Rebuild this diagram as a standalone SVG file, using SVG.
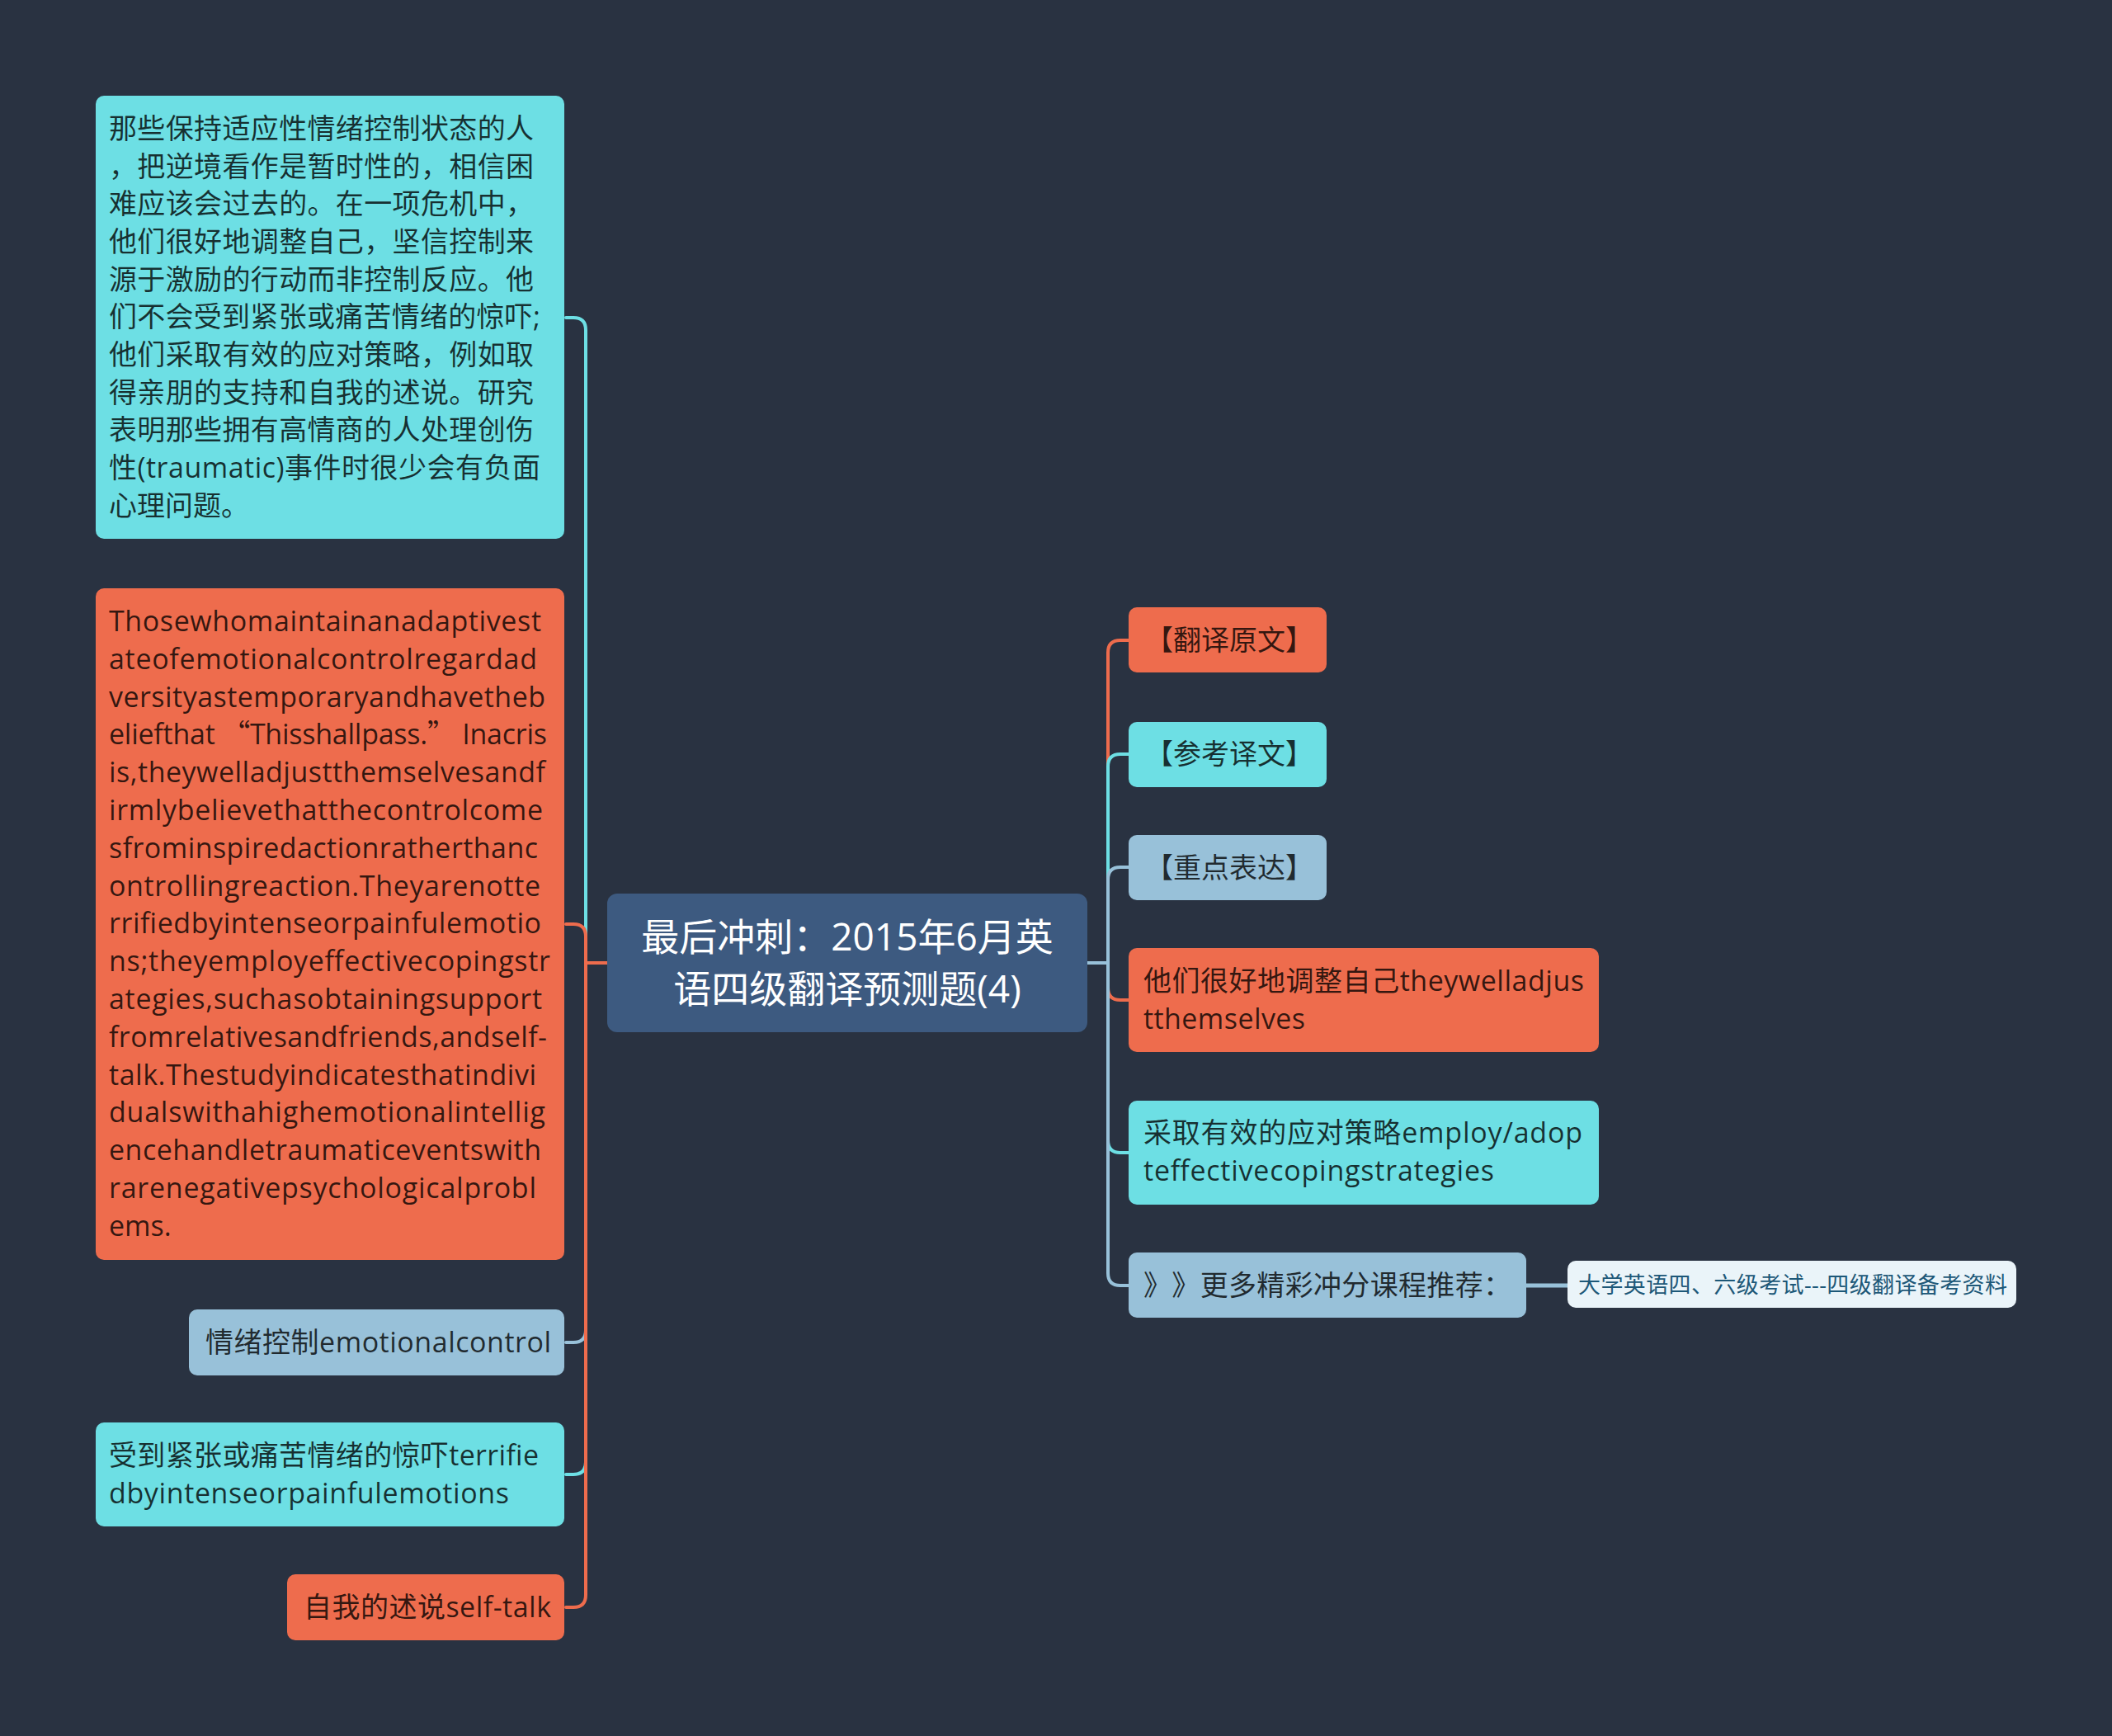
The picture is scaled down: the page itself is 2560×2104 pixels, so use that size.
<svg xmlns="http://www.w3.org/2000/svg" width="2560" height="2104" viewBox="0 0 2560 2104">
<style>
text{text-spacing-trim:space-all}
.t{font-family:"Open Sans","Noto Sans CJK SC",sans-serif;font-size:34px;fill:#000;fill-opacity:0.78}
.c{font-family:"Open Sans","Noto Sans CJK SC",sans-serif;font-size:46px;fill:#ffffff;text-anchor:middle}
.s{font-family:"Open Sans","Noto Sans CJK SC",sans-serif;font-size:27px;fill:#1d5878}
.q{font-family:"Noto Sans CJK SC",sans-serif}
.or{fill:#ee6c4d}
.cy{fill:#6ddfe4}
.lb{fill:#98c1d9}
.ln{fill:none;stroke-width:4;stroke-linecap:round}
</style>
<rect width="2560" height="2104" fill="#293241"/>
<g id="connectors">
  <path class="ln" stroke="#6ddfe4" d="M736,1167 H710 V400 Q710,385 695,385 H686"/>
  <path class="ln" stroke="#ee6c4d" d="M736,1167 H710 V1135 Q710,1120 695,1120 H686"/>
  <path class="ln" stroke="#98c1d9" d="M736,1167 H710 V1612 Q710,1627 695,1627 H686"/>
  <path class="ln" stroke="#6ddfe4" d="M736,1167 H710 V1772 Q710,1787 695,1787 H686"/>
  <path class="ln" stroke="#ee6c4d" d="M736,1167 H710 V1933 Q710,1948 695,1948 H686"/>
  <path class="ln" stroke="#ee6c4d" d="M1318,1167 H1343 V791 Q1343,776 1358,776 H1368"/>
  <path class="ln" stroke="#6ddfe4" d="M1318,1167 H1343 V929 Q1343,914 1358,914 H1368"/>
  <path class="ln" stroke="#98c1d9" d="M1318,1167 H1343 V1066 Q1343,1051 1358,1051 H1368"/>
  <path class="ln" stroke="#ee6c4d" d="M1318,1167 H1343 V1197 Q1343,1212 1358,1212 H1368"/>
  <path class="ln" stroke="#6ddfe4" d="M1318,1167 H1343 V1382 Q1343,1397 1358,1397 H1368"/>
  <path class="ln" stroke="#98c1d9" d="M1318,1167 H1343 V1543 Q1343,1558 1358,1558 H1368"/>
  <path fill="none" stroke="#98c1d9" stroke-width="5" d="M1850,1558 H1900"/>
</g>
<g id="center">
  <rect x="736" y="1083" width="582" height="168" rx="12" fill="#3d5a80"/>
  <text class="c" x="1027" y="1152">最后冲刺：2015年6月英</text>
  <text class="c" x="1027" y="1215">语四级翻译预测题(4)</text>
</g>
<g id="nodeA">
  <rect class="cy" x="116" y="116" width="568" height="537" rx="10"/>
  <text class="t" x="132" y="168" textLength="515">那些保持适应性情绪控制状态的人</text>
  <text class="t" x="132" y="213.7" textLength="515">，把逆境看作是暂时性的，相信困</text>
  <text class="t" x="132" y="259.3" textLength="515">难应该会过去的。在一项危机中，</text>
  <text class="t" x="132" y="305" textLength="515">他们很好地调整自己，坚信控制来</text>
  <text class="t" x="132" y="350.6" textLength="515">源于激励的行动而非控制反应。他</text>
  <text class="t" x="132" y="396.3" textLength="523">们不会受到紧张或痛苦情绪的惊吓;</text>
  <text class="t" x="132" y="441.9" textLength="515">他们采取有效的应对策略，例如取</text>
  <text class="t" x="132" y="487.6" textLength="515">得亲朋的支持和自我的述说。研究</text>
  <text class="t" x="132" y="533.2" textLength="515">表明那些拥有高情商的人处理创伤</text>
  <text class="t" x="132" y="578.9" textLength="523">性(traumatic)事件时很少会有负面</text>
  <text class="t" x="132" y="624.5">心理问题。</text>
</g>
<g id="nodeB">
  <rect class="or" x="116" y="713" width="568" height="814" rx="10"/>
  <text class="t" x="132" y="765" textLength="524">Thosewhomaintainanadaptivest</text>
  <text class="t" x="132" y="810.8" textLength="519">ateofemotionalcontrolregardad</text>
  <text class="t" x="132" y="856.6" textLength="529">versityastemporaryandhavetheb</text>
  <text class="t" x="132" y="902.4" textLength="531">eliefthat <tspan class="q">“</tspan>Thisshallpass.<tspan class="q">”</tspan> Inacris</text>
  <text class="t" x="132" y="948.2" textLength="529">is,theywelladjustthemselvesandf</text>
  <text class="t" x="132" y="994" textLength="526">irmlybelievethatthecontrolcome</text>
  <text class="t" x="132" y="1039.8" textLength="520">sfrominspiredactionratherthanc</text>
  <text class="t" x="132" y="1085.6" textLength="523">ontrollingreaction.Theyarenotte</text>
  <text class="t" x="132" y="1131.4" textLength="524">rrifiedbyintenseorpainfulemotio</text>
  <text class="t" x="132" y="1177.2" textLength="535">ns;theyemployeffectivecopingstr</text>
  <text class="t" x="132" y="1223" textLength="525">ategies,suchasobtainingsupport</text>
  <text class="t" x="132" y="1268.8" textLength="531">fromrelativesandfriends,andself-</text>
  <text class="t" x="132" y="1314.6" textLength="518">talk.Thestudyindicatesthatindivi</text>
  <text class="t" x="132" y="1360.4" textLength="529">dualswithahighemotionalintellig</text>
  <text class="t" x="132" y="1406.2" textLength="524">encehandletraumaticeventswith</text>
  <text class="t" x="132" y="1452" textLength="518">rarenegativepsychologicalprobl</text>
  <text class="t" x="132" y="1497.8">ems.</text>
</g>
<g id="nodeC">
  <rect class="lb" x="229" y="1587" width="455" height="80" rx="10"/>
  <text class="t" x="249" y="1639" textLength="419">情绪控制emotionalcontrol</text>
</g>
<g id="nodeD">
  <rect class="cy" x="116" y="1724" width="568" height="126" rx="10"/>
  <text class="t" x="132" y="1776" textLength="521">受到紧张或痛苦情绪的惊吓terrifie</text>
  <text class="t" x="132" y="1822" textLength="485">dbyintenseorpainfulemotions</text>
</g>
<g id="nodeE">
  <rect class="or" x="348" y="1908" width="336" height="80" rx="10"/>
  <text class="t" x="368" y="1960" textLength="300">自我的述说self-talk</text>
</g>
<g id="nodeR1">
  <rect class="or" x="1368" y="736" width="240" height="79" rx="10"/>
  <text class="t" x="1388" y="788">【翻译原文】</text>
</g>
<g id="nodeR2">
  <rect class="cy" x="1368" y="875" width="240" height="79" rx="10"/>
  <text class="t" x="1388" y="926">【参考译文】</text>
</g>
<g id="nodeR3">
  <rect class="lb" x="1368" y="1012" width="240" height="79" rx="10"/>
  <text class="t" x="1388" y="1064">【重点表达】</text>
</g>
<g id="nodeR4">
  <rect class="or" x="1368" y="1149" width="570" height="126" rx="10"/>
  <text class="t" x="1386" y="1201" textLength="534">他们很好地调整自己theywelladjus</text>
  <text class="t" x="1386" y="1247" textLength="196">tthemselves</text>
</g>
<g id="nodeR5">
  <rect class="cy" x="1368" y="1334" width="570" height="126" rx="10"/>
  <text class="t" x="1386" y="1385" textLength="532">采取有效的应对策略employ/adop</text>
  <text class="t" x="1386" y="1431" textLength="425">teffectivecopingstrategies</text>
</g>
<g id="nodeR6">
  <rect class="lb" x="1368" y="1518" width="482" height="79" rx="10"/>
  <text class="t" x="1386" y="1570" textLength="446">》》更多精彩冲分课程推荐：</text>
</g>
<g id="nodeR7">
  <rect x="1900" y="1528" width="544" height="57" rx="10" fill="#eaf4f9"/>
  <text class="s" x="1913" y="1567" textLength="520">大学英语四、六级考试---四级翻译备考资料</text>
</g>
</svg>
